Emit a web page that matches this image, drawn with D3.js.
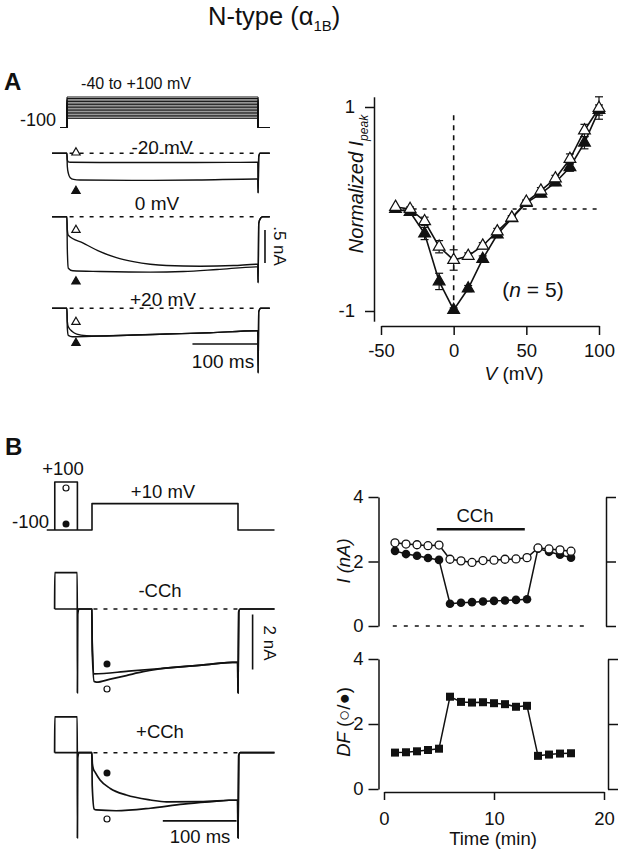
<!DOCTYPE html>
<html><head><meta charset="utf-8">
<script src="https://cdn.jsdelivr.net/npm/d3@7/dist/d3.min.js"></script>
<style>
html,body{margin:0;padding:0;background:#fff;}
svg{display:block;}
text{font-family:"Liberation Sans",Arial,Helvetica,sans-serif;fill:#111;}
</style></head><body>
<svg id="fig" width="622" height="853"></svg>
<script>
// ================= DATA =================
// Panel A protocol: test steps (mV)
const stepVoltages = [-40,-30,-20,-10,0,10,20,30,40,50,60,70,80,90,100];
const holdingA = -100;
const pulseEndA = 294;           // ms
// Panel A traces [time ms, current nA]
const traceM20Open   = [[-23,0],[-0.2,0],[0.5,-0.10],[2,-0.13],[5,-0.136],[50,-0.14],[150,-0.14],[250,-0.138],[293.5,-0.136],[294,-0.6],[295,-0.05],[297,0],[312,0]];
const traceM20Filled = [[-23,0],[-0.2,0],[0.5,-0.2],[2,-0.30],[5,-0.37],[10,-0.395],[20,-0.405],[100,-0.41],[200,-0.405],[293.5,-0.39],[294,-0.6],[295,-0.05],[297,0],[312,0]];
const traceZeroOpen   = [[-23,0],[-0.2,0],[0.5,-0.2],[2,-0.28],[25,-0.40],[51,-0.53],[76,-0.62],[102,-0.68],[128,-0.72],[153,-0.74],[205,-0.75],[256,-0.74],[293.5,-0.72],[294,-1.0],[295,-0.1],[298,-0.02],[301,0],[312,0]];
const traceZeroFilled = [[-23,0],[-0.2,0],[0.5,-0.5],[2,-0.78],[9,-0.82],[51,-0.83],[128,-0.84],[179,-0.83],[231,-0.80],[293.5,-0.76],[294,-1.0],[295,-0.1],[298,-0.02],[301,0],[312,0]];
const traceP20Open   = [[-23,0],[-0.2,0],[0.5,-0.2],[2,-0.28],[8,-0.35],[15,-0.39],[30,-0.415],[46,-0.42],[100,-0.405],[153,-0.39],[220,-0.37],[293.5,-0.34],[294,-0.98],[295,-0.05],[298,0],[312,0]];
const traceP20Filled = [[-23,0],[-0.2,0],[0.5,-0.3],[2,-0.41],[8,-0.43],[51,-0.42],[153,-0.39],[220,-0.37],[293.5,-0.34],[294,-0.98],[295,-0.05],[298,0],[312,0]];

// Panel A I-V
const ivVoltages  = [-40,-30,-20,-10,0,10,20,30,40,50,60,70,80,90,100];
const ivOpen      = [0.02,0.00,-0.12,-0.37,-0.50,-0.46,-0.36,-0.22,-0.085,0.07,0.18,0.30,0.49,0.77,0.99];
const ivOpenErr   = [0.00,0.02,0.04,0.06,0.10,0.03,0.03,0.03,0.02,0.02,0.03,0.03,0.05,0.06,0.11];
const ivFilled    = [0.00,-0.03,-0.24,-0.71,-0.99,-0.78,-0.49,-0.25,-0.09,0.06,0.15,0.26,0.41,0.65,0.97];
const ivFilledErr = [0.00,0.02,0.06,0.08,0.02,0.03,0.03,0.03,0.02,0.02,0.03,0.03,0.04,0.06,0.05];
const ivXTicks = [-50,0,50,100];
const ivYTicks = [-1,1];

// Panel B protocol
const holdingB = -100, prepulseV = 100, testV = 10;
const prepulseStart = -51, prepulseEnd = -20, pulseEndB = 200;
// Panel B traces [time ms, current nA]
const traceMinusOpen   = [[-51.2,0],[-51,1.32],[-20.2,1.32],[-20,-3.05],[-19.5,-0.2],[-18,0],[-0.2,0],[0.3,-1.5],[3,-2.64],[6,-2.66],[25,-2.55],[47,-2.42],[70,-2.28],[90,-2.19],[150,-2.04],[199.5,-1.93],[200,-3.05],[201,-0.1],[203,0],[250,0]];
const traceMinusFilled = [[-51.2,0],[-0.2,0],[0.3,-1.2],[3,-2.36],[50,-2.26],[100,-2.15],[150,-2.04],[199.5,-1.93],[200,-3.05],[201,-0.1],[203,0],[250,0]];
const tracePlusOpen    = [[-51.2,0],[-51,1.30],[-20.2,1.30],[-20,-3.1],[-19.5,-0.2],[-18,0],[-0.2,0],[0.3,-1.2],[3,-2.05],[6,-2.08],[33,-2.11],[80,-2.02],[125,-1.87],[160,-1.79],[199.5,-1.72],[200,-3.1],[201,-0.1],[203,0],[250,0]];
const tracePlusFilled  = [[-51.2,0],[-0.2,0],[0.5,-0.4],[2,-0.60],[4,-0.70],[11,-0.99],[25,-1.30],[47,-1.54],[80,-1.72],[102,-1.79],[148,-1.78],[199.5,-1.72],[200,-3.1],[201,-0.1],[203,0],[250,0]];

// Panel B time course
const timeMin   = [1,2,3,4,5,6,7,8,9,10,11,12,13,14,15,16,17];
const iOpenNA   = [2.58,2.54,2.52,2.49,2.51,2.07,2.02,1.97,2.03,2.04,2.07,2.08,2.12,2.42,2.39,2.36,2.32];
const iFilledNA = [2.33,2.23,2.18,2.11,2.05,0.69,0.72,0.74,0.76,0.78,0.79,0.81,0.83,2.40,2.30,2.21,2.12];
const dfValues  = [1.12,1.13,1.16,1.20,1.24,2.84,2.68,2.66,2.67,2.64,2.61,2.53,2.56,1.02,1.06,1.09,1.10];
const cchPeriod = [4.8,12.8];
const timeTicks = [0,10,20];
const currentTicks = [0,2,4];
const dfTicks = [0,2,4];

// ================= DRAWING =================
const svg = d3.select("#fig");
const INK = "#111";
const plainFmt = d => String(d);   // keeps ASCII hyphen for negatives, no decimals

function txt(x,y,s,size,opts={}) {
  const t = svg.append("text").attr("x",x).attr("y",y).attr("font-size",size)
    .attr("text-anchor",opts.anchor||"start");
  if (opts.bold) t.attr("font-weight","bold");
  if (opts.italic) t.attr("font-style","italic");
  if (s!==null) t.text(s);
  return t;
}
function poly(data,x,y,w,curve) {
  return svg.append("path").datum(data).attr("fill","none").attr("stroke",INK)
    .attr("stroke-width",w).attr("stroke-linejoin","round").attr("stroke-linecap","butt")
    .attr("d", d3.line().x(d=>x(d[0])).y(d=>y(d[1])).curve(curve||d3.curveLinear));
}
function dashed(x1,x2,y,dash,w) {
  svg.append("line").attr("x1",x1).attr("x2",x2).attr("y1",y).attr("y2",y)
    .attr("stroke",INK).attr("stroke-width",w||1.4).attr("stroke-dasharray",dash);
}
function vdashed(x,y1,y2,dash,w) {
  svg.append("line").attr("x1",x).attr("x2",x).attr("y1",y1).attr("y2",y2)
    .attr("stroke",INK).attr("stroke-width",w||1.4).attr("stroke-dasharray",dash);
}
function marker(type,x,y,size,filled) {
  svg.append("path").attr("d", d3.symbol().type(type).size(size)())
    .attr("transform",`translate(${x},${y})`)
    .attr("fill", filled?INK:"#fff").attr("stroke",INK).attr("stroke-width",1.2);
}
function styleAxis(g,fs){
  g.selectAll("path.domain").attr("stroke",INK).attr("stroke-width",1.5);
  g.selectAll(".tick line").attr("stroke",INK).attr("stroke-width",1.5);
  g.selectAll(".tick text").attr("font-family",'"Liberation Sans",Arial,sans-serif')
    .attr("font-size",fs).attr("fill",INK);
  g.attr("font-family",null).attr("font-size",null);
}

// ---- Title ----
const title = txt(208,25,null,25.5);
title.append("tspan").text("N-type (α");
title.append("tspan").attr("font-size",15).attr("dy",6).text("1B");
title.append("tspan").attr("dy",-6).text(")");

// ---- Panel labels ----
txt(4,90,"A",24,{bold:true});
txt(5,455,"B",24,{bold:true});

// ================= Panel A : traces =================
const xA = d3.scaleLinear().domain([0,100]).range([67,132]);
const yVA = d3.scaleLinear().domain([-100,100]).range([127.5,97]);
stepVoltages.forEach(v=>{
  poly([[-10,holdingA],[0,holdingA],[0,v],[pulseEndA,v],[pulseEndA,holdingA],[pulseEndA+18,holdingA]],xA,yVA,1.0);
});
txt(136,89,"-40 to +100 mV",16,{anchor:"middle"});
txt(56,126,"-100",18,{anchor:"end"});

const yA1 = d3.scaleLinear().domain([0,-0.5]).range([153.3,186.3]);
const yA2 = d3.scaleLinear().domain([0,-0.5]).range([216.7,249.7]);
const yA3 = d3.scaleLinear().domain([0,-0.5]).range([308.3,341.3]);
const tmarkA = 13.8;

[[yA1,traceM20Open,traceM20Filled,"-20 mV",162,154],
 [yA2,traceZeroOpen,traceZeroFilled,"0 mV",157,210],
 [yA3,traceP20Open,traceP20Filled,"+20 mV",163,306]].forEach(([ys,o,f,lab,lx,ly])=>{
  dashed(xA(4),xA(pulseEndA),ys(0),"4,6",1.4);
  poly(f,xA,ys,1.4,d3.curveMonotoneX);
  poly(o,xA,ys,1.4,d3.curveMonotoneX);
  txt(lx,ly,lab,19,{anchor:"middle"});
});
// triangles on traces
marker(d3.symbolTriangle,xA(tmarkA),152.6,30,false);
marker(d3.symbolTriangle,xA(tmarkA),191,30,true);
marker(d3.symbolTriangle,xA(tmarkA),230,30,false);
marker(d3.symbolTriangle,xA(tmarkA),281.5,30,true);
marker(d3.symbolTriangle,xA(tmarkA),322,30,false);
marker(d3.symbolTriangle,xA(tmarkA),343,30,true);
// scale bars
poly([[304.6,-0.2],[304.6,-0.7]],xA,yA2,1.6);
svg.append("text").attr("font-size",17).attr("text-anchor","middle")
  .attr("transform",`translate(${274},${246}) rotate(90)`).text(".5 nA");
poly([[193,-0.54],[293,-0.54]],xA,yA3,1.6);
txt(223,368,"100 ms",19,{anchor:"middle"});

// ================= Panel A : I-V =================
const xIV = d3.scaleLinear().domain([-50,100]).range([381,599]);
const yIV = d3.scaleLinear().domain([-1.1,1.1]).range([321.2,96.8]);
dashed(xIV(-42),xIV(100),yIV(0),"4,6",1.4);
vdashed(xIV(0),yIV(0.92),yIV(-0.98),"5,5",1.6);

const gy = svg.append("g").attr("transform","translate(374,0)")
  .call(d3.axisLeft(yIV).tickValues(ivYTicks).tickSize(9).tickSizeOuter(0).tickPadding(10).tickFormat(plainFmt));
styleAxis(gy,18.5);
const gx = svg.append("g").attr("transform","translate(0,326)")
  .call(d3.axisBottom(xIV).tickValues(ivXTicks).tickSize(9).tickSizeOuter(0).tickPadding(9).tickFormat(plainFmt));
styleAxis(gx,18.5);

const lineIV = d3.line().x(d=>xIV(d[0])).y(d=>yIV(d[1]));
const filledPts = ivVoltages.map((v,i)=>[v,ivFilled[i],ivFilledErr[i]]);
const openPts = ivVoltages.map((v,i)=>[v,ivOpen[i],ivOpenErr[i]]);
[filledPts,openPts].forEach(pts=>{
  pts.forEach(p=>{
    if (p[2]>0) {
      svg.append("line").attr("x1",xIV(p[0])).attr("x2",xIV(p[0])).attr("y1",yIV(p[1]-p[2])).attr("y2",yIV(p[1]+p[2])).attr("stroke",INK).attr("stroke-width",1.2);
      [p[1]-p[2],p[1]+p[2]].forEach(e=>svg.append("line").attr("x1",xIV(p[0])-4).attr("x2",xIV(p[0])+4).attr("y1",yIV(e)).attr("y2",yIV(e)).attr("stroke",INK).attr("stroke-width",1.2));
    }
  });
});
svg.append("path").datum(filledPts).attr("d",lineIV).attr("fill","none").attr("stroke",INK).attr("stroke-width",1.6);
svg.append("path").datum(openPts).attr("d",lineIV).attr("fill","none").attr("stroke",INK).attr("stroke-width",1.6);
filledPts.forEach(p=>marker(d3.symbolTriangle,xIV(p[0]),yIV(p[1]),60,true));
openPts.forEach(p=>marker(d3.symbolTriangle,xIV(p[0]),yIV(p[1]),60,false));

const ylab = svg.append("text").attr("font-size",20).attr("font-style","italic").attr("text-anchor","middle")
  .attr("transform","translate(363,184) rotate(-90)");
ylab.append("tspan").text("Normalized I");
ylab.append("tspan").attr("font-size",12).attr("dy",5).text("peak");
const xlab = txt(514,380,null,19,{anchor:"middle"});
xlab.append("tspan").attr("font-style","italic").text("V");
xlab.append("tspan").text(" (mV)");
const nlab = txt(533,297,null,21,{anchor:"middle"});
nlab.append("tspan").text("(");
nlab.append("tspan").attr("font-style","italic").text("n");
nlab.append("tspan").text(" = 5)");

// ================= Panel B : protocol & traces =================
const xB = d3.scaleLinear().domain([0,100]).range([92,165]);
const yVB = d3.scaleLinear().domain([-100,100]).range([530,482]);
poly([[-62,holdingB],[0,holdingB],[0,testV],[pulseEndB,testV],[pulseEndB,holdingB],[250,holdingB]],xB,yVB,1.6);
poly([[prepulseStart,holdingB],[prepulseStart,prepulseV],[prepulseEnd,prepulseV],[prepulseEnd,holdingB]],xB,yVB,1.6);
svg.append("circle").attr("cx",66).attr("cy",488).attr("r",3).attr("fill","#fff").attr("stroke",INK).attr("stroke-width",1.2);
svg.append("circle").attr("cx",66).attr("cy",524).attr("r",3.5).attr("fill",INK);
txt(63,475,"+100",18.5,{anchor:"middle"});
txt(49,528,"-100",18.5,{anchor:"end"});
txt(163,498,"+10 mV",18.5,{anchor:"middle"});

const yBm = d3.scaleLinear().domain([0,-2]).range([609,664]);
const yBp = d3.scaleLinear().domain([0,-2]).range([752.7,807.7]);
[[yBm,traceMinusOpen,traceMinusFilled,"-CCh",160,597],
 [yBp,tracePlusOpen,tracePlusFilled,"+CCh",160,738]].forEach(([ys,o,f,lab,lx,ly])=>{
  dashed(xB(2),xB(pulseEndB),ys(0),"4,6",1.4);
  poly(f,xB,ys,1.7,d3.curveMonotoneX);
  poly(o,xB,ys,1.7,d3.curveMonotoneX);
  txt(lx,ly,lab,18.5,{anchor:"middle"});
});
svg.append("circle").attr("cx",107).attr("cy",664).attr("r",3.5).attr("fill",INK);
svg.append("circle").attr("cx",107).attr("cy",689).attr("r",3).attr("fill","#fff").attr("stroke",INK).attr("stroke-width",1.2);
svg.append("circle").attr("cx",107).attr("cy",773).attr("r",3.5).attr("fill",INK);
svg.append("circle").attr("cx",107).attr("cy",819).attr("r",3).attr("fill","#fff").attr("stroke",INK).attr("stroke-width",1.2);
// scale bars
poly([[220,-0.2],[220,-2.2]],xB,yBm,1.6);
svg.append("text").attr("font-size",17).attr("text-anchor","middle")
  .attr("transform","translate(264,643) rotate(90)").text("2 nA");
poly([[97,-2.48],[198,-2.48]],xB,yBp,1.6);
txt(200,843,"100 ms",18.5,{anchor:"middle"});

// ================= Panel B : time course =================
const xT = d3.scaleLinear().domain([0,20]).range([384,604]);
const yI = d3.scaleLinear().domain([0,4]).range([626,497]);
const yDF = d3.scaleLinear().domain([0,4]).range([789,659]);

dashed(xT(0.8),xT(18.6),yI(0),"4,7",1.4);
const gI = svg.append("g").attr("transform","translate(378.5,0)")
  .call(d3.axisLeft(yI).tickValues(currentTicks).tickSize(10).tickSizeOuter(0).tickPadding(5).tickFormat(plainFmt));
styleAxis(gI,18.5);
const gIr = svg.append("g").attr("transform","translate(606,0)")
  .call(d3.axisRight(yI).tickValues(currentTicks).tickSize(10).tickSizeOuter(0).tickFormat(""));
styleAxis(gIr,18.5);
poly([[cchPeriod[0],3.0],[cchPeriod[1],3.0]],xT,yI,2.4);
txt(475,522,"CCh",18.5,{anchor:"middle"});

const filledTC = timeMin.map((t,i)=>[t,iFilledNA[i]]);
const openTC = timeMin.map((t,i)=>[t,iOpenNA[i]]);
poly(filledTC,xT,yI,1.5);
poly(openTC,xT,yI,1.5);
filledTC.forEach(p=>svg.append("circle").attr("cx",xT(p[0])).attr("cy",yI(p[1])).attr("r",4.3).attr("fill",INK));
openTC.forEach(p=>svg.append("circle").attr("cx",xT(p[0])).attr("cy",yI(p[1])).attr("r",4).attr("fill","#fff").attr("stroke",INK).attr("stroke-width",1.3));
const il = svg.append("text").attr("font-size",18.5).attr("font-style","italic").attr("text-anchor","middle")
  .attr("transform","translate(350,561) rotate(-90)");
il.append("tspan").text("I (nA)");

// DF plot
const gD = svg.append("g").attr("transform","translate(378.5,0)")
  .call(d3.axisLeft(yDF).tickValues(dfTicks).tickSize(10).tickSizeOuter(0).tickPadding(5).tickFormat(plainFmt));
styleAxis(gD,18.5);
const gDr = svg.append("g").attr("transform","translate(608,0)")
  .call(d3.axisRight(yDF).tickValues(dfTicks).tickSize(10).tickSizeOuter(0).tickFormat(""));
styleAxis(gDr,18.5);
const gT = svg.append("g").attr("transform","translate(0,792)")
  .call(d3.axisBottom(xT).tickValues(timeTicks).tickSize(8).tickSizeOuter(0).tickPadding(12).tickFormat(plainFmt));
styleAxis(gT,18.5);
const dfPts = timeMin.map((t,i)=>[t,dfValues[i]]);
poly(dfPts,xT,yDF,1.5);
dfPts.forEach(p=>svg.append("rect").attr("x",xT(p[0])-4).attr("y",yDF(p[1])-4).attr("width",8).attr("height",8).attr("fill",INK));
const dl = svg.append("text").attr("font-size",18.5).attr("text-anchor","middle")
  .attr("transform","translate(350,722) rotate(-90)");
dl.append("tspan").attr("font-style","italic").text("DF");
dl.append("tspan").text(" (○/●)");
txt(493,845,"Time (min)",18.5,{anchor:"middle"});
</script>
</body></html>
